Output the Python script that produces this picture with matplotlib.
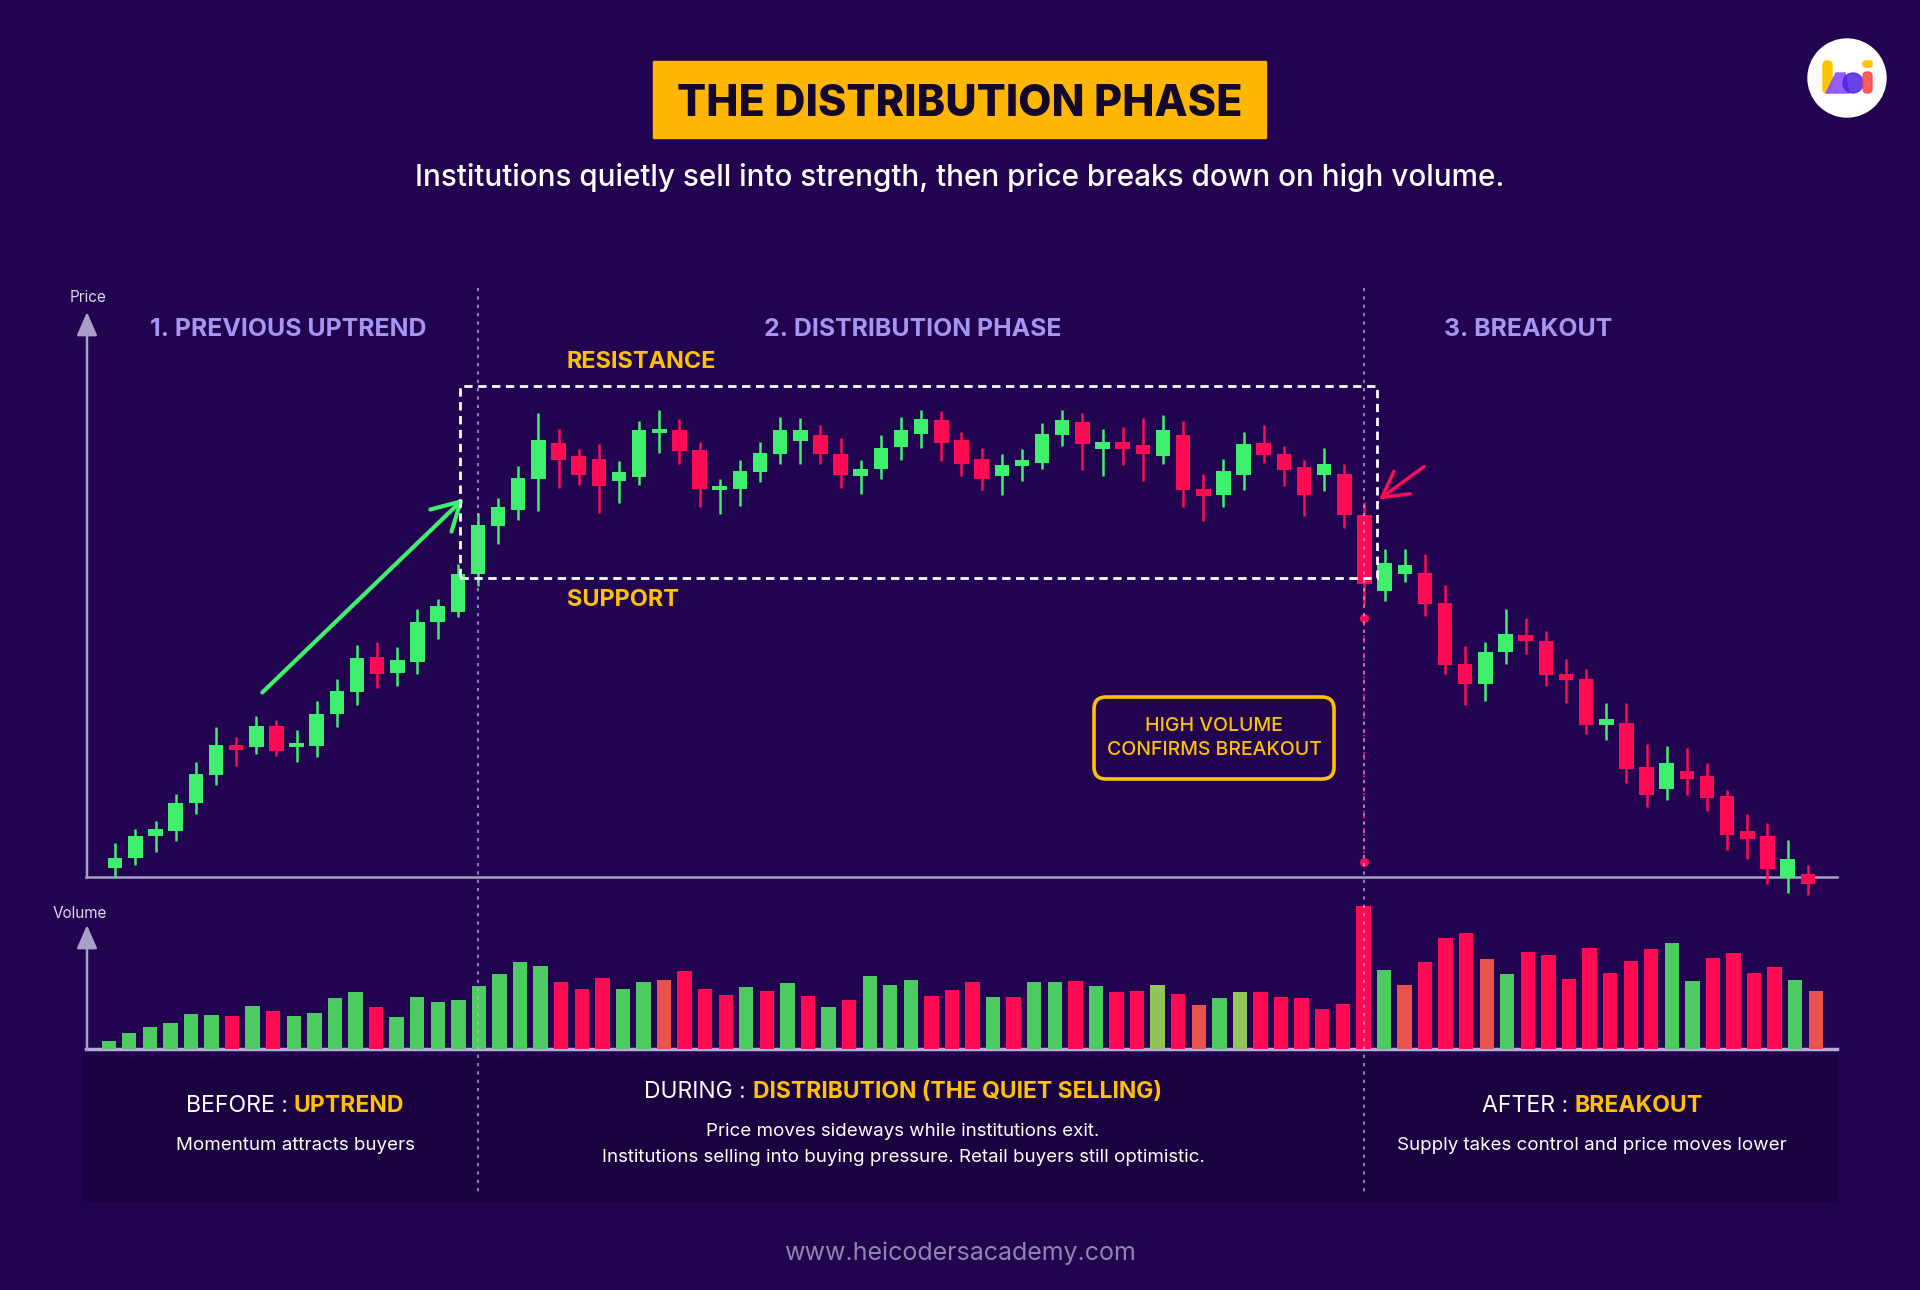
import matplotlib
matplotlib.use("Agg")
import matplotlib.pyplot as plt
from matplotlib.patches import Rectangle, FancyBboxPatch, Circle, Polygon
import numpy as np

plt.rcParams["font.family"] = ["Inter", "DejaVu Sans"]

BG = "#22034f"
PANEL = "#1a0140"
GREEN = "#3ff06d"
RED = "#ff0a54"
YELLOW = "#ffc107"
TITLE_BOX = "#ffb703"
LAVENDER = "#a596f2"
AXIS = "#a8a0c8"
DIVIDER = "#b9b1dc"

# ---------- price candles (OHLC) ----------
opens = [5.8, 7.9, 12.3, 13.3, 18.8, 24.4, 30.5, 30.1, 34.2, 30.1, 30.3, 36.6, 41.0, 48.1, 44.9, 47.1, 55.0, 57.1, 64.6,
         74.3, 77.5, 83.7, 90.9, 88.2, 87.7, 83.3, 84.1, 92.9, 93.5, 89.4, 81.5, 81.6, 85.1, 88.7, 91.3, 92.5, 88.6, 84.2,
         85.7, 90.1, 92.7, 95.4, 91.4, 87.7, 84.2, 86.2, 86.9, 92.4, 94.9, 89.7, 91.0, 90.4, 88.3, 92.4, 81.7, 80.4, 84.5,
         90.9, 88.7, 86.1, 84.4, 84.7, 76.5, 61.2, 64.6, 64.9, 58.9, 46.6, 42.7, 49.1, 52.5, 51.3, 44.7, 43.7, 34.4, 34.9,
         26.1, 21.7, 25.3, 24.2, 20.2, 13.3, 12.3, 3.9, 4.7]
highs = [10.9, 13.6, 15.2, 20.6, 27.1, 34.0, 32.1, 36.3, 35.4, 33.5, 39.3, 43.7, 50.4, 51.0, 50.0, 57.6, 59.7, 66.6, 76.9,
         79.9, 86.3, 96.9, 93.7, 89.7, 90.6, 87.2, 95.3, 97.4, 95.7, 91.0, 83.6, 87.5, 91.0, 96.1, 95.9, 94.4, 91.9, 87.5,
         92.4, 96.1, 97.5, 97.2, 93.1, 89.9, 88.7, 89.7, 94.9, 97.5, 96.9, 93.7, 94.1, 95.9, 96.4, 95.2, 84.6, 87.7, 93.1,
         94.5, 90.3, 87.4, 89.9, 86.7, 79.1, 69.7, 69.6, 68.7, 62.4, 50.3, 51.1, 57.7, 55.9, 53.2, 47.6, 45.6, 38.9, 38.9,
         30.6, 30.3, 29.9, 26.9, 21.5, 16.7, 14.9, 11.5, 6.4]
lows = [4.1, 6.5, 9.0, 11.3, 16.6, 22.5, 26.3, 28.7, 28.3, 27.1, 28.1, 34.0, 38.4, 41.9, 42.3, 44.7, 51.6, 56.0, 62.2,
        70.6, 75.5, 77.3, 81.9, 82.4, 76.9, 78.9, 82.5, 88.9, 86.6, 78.1, 76.7, 78.2, 83.1, 86.6, 86.7, 86.7, 81.9, 80.6,
        83.7, 87.4, 89.9, 87.3, 84.3, 81.4, 80.4, 83.3, 85.7, 90.3, 85.5, 84.2, 86.4, 83.3, 86.7, 78.1, 75.2, 78.1, 81.5,
        86.9, 82.3, 76.2, 81.3, 73.9, 58.4, 59.3, 63.1, 56.2, 44.6, 38.5, 39.2, 46.6, 48.7, 42.2, 38.9, 32.7, 31.5, 22.9,
        18.1, 19.4, 20.4, 17.3, 9.4, 7.6, 2.7, 0.9, 0.4]
closes = [7.9, 12.3, 13.6, 18.9, 24.7, 30.5, 29.4, 34.3, 29.3, 30.7, 36.6, 41.2, 47.9, 44.7, 47.5, 55.0, 58.2, 64.7, 74.5,
          77.9, 83.9, 91.4, 87.4, 84.4, 82.2, 85.0, 93.5, 93.7, 89.2, 81.7, 82.1, 85.3, 88.7, 93.5, 93.4, 88.6, 84.4, 85.7,
          89.9, 93.4, 95.7, 90.9, 86.7, 83.7, 86.4, 87.5, 92.6, 95.4, 90.6, 91.0, 89.7, 88.6, 93.5, 81.4, 80.3, 85.3, 90.6,
          88.5, 85.4, 80.4, 86.6, 76.4, 62.6, 66.9, 66.4, 58.6, 46.4, 42.7, 49.1, 52.6, 51.2, 44.4, 43.4, 34.4, 35.6, 25.6,
          20.5, 26.9, 23.6, 19.9, 12.4, 11.7, 5.7, 7.7, 2.7]

# ---------- volume (thousands) ----------
volume = [80, 160, 217, 260, 347, 343, 333, 433, 383, 327, 360, 507, 567, 417, 323, 520, 467, 487, 633,
          753, 867, 833, 673, 597, 707, 603, 670, 693, 777, 603, 543, 620, 580, 660, 533, 417, 490, 730, 637, 690,
          533, 593, 673, 517, 523, 673, 673, 683, 633, 567, 580, 637, 547, 440, 510, 570, 567, 520, 510, 403, 447, 1433,
          790, 643, 867, 1110, 1157, 900, 750, 973, 940, 697, 1007, 760, 883, 1000, 1057, 683, 913, 960, 763, 823, 693, 577]
# u = buyers, d = sellers, m = mixed (mostly selling), o = mixed (mostly buying)
volume_side = list("uuuuuududuuuuduuuuu"
                   "uuuddduumdddudududuuu"
                   "ddduduududdodmuodddddd"
                   "umdddmuddddddduuddddum")
assert len(volume) == len(volume_side)

resistance = 102.2
support = 63.9
baseline = 4.0
dist_start = 18      # first candle of the distribution range
breakout_idx = 62    # breakdown candle

# ---------- figure ----------
fig = plt.figure(figsize=(19.2, 12.9), dpi=100, facecolor=BG)

back = fig.add_axes([0, 0, 1, 1], zorder=0)
back.set_xlim(0, 1920)
back.set_ylim(1290, 0)
back.axis("off")

ax = fig.add_axes([87 / 1920, 1 - 905 / 1290, 1750 / 1920, 605 / 1290], zorder=2)
ax.set_xlim(-1.4, 85.45)
ax.set_ylim(-1.6, 119.4)
ax.axis("off")

vax = fig.add_axes([87 / 1920, 1 - 1049 / 1290, 1750 / 1920, 149 / 1290], zorder=2)
vax.set_xlim(-1.055, 84.03)
vax.set_ylim(0, 1490)
vax.axis("off")

front = fig.add_axes([0, 0, 1, 1], zorder=5)
front.set_xlim(0, 1920)
front.set_ylim(1290, 0)
front.axis("off")

# ---------- background pieces ----------
back.add_patch(Rectangle((653, 61), 613, 77, color=TITLE_BOX))
back.text(960, 104, "THE DISTRIBUTION PHASE", fontsize=31, fontweight="heavy", color="#14082a",
          ha="center", va="center")
back.text(960, 178, "Institutions quietly sell into strength, then price breaks down on high volume.",
          fontsize=21.4, color="white", ha="center", va="center", fontweight="medium")

# logo
back.add_patch(Circle((1847, 78), 39, color="white"))
back.add_patch(FancyBboxPatch((1823, 61), 9, 32, boxstyle="round,pad=0,rounding_size=4", color="#ffc400"))
back.add_patch(Polygon([(1826, 93), (1836, 73), (1845, 73), (1849, 93)], color="#8a4dff", alpha=0.9))
back.add_patch(Circle((1853, 83), 10, color="#4b22e0", alpha=0.85))
back.add_patch(FancyBboxPatch((1863, 72), 9, 21, boxstyle="round,pad=0,rounding_size=4", color="#ff4a4a", alpha=0.9))
back.add_patch(FancyBboxPatch((1863, 61), 9, 6, boxstyle="round,pad=0,rounding_size=2", color="#ffc400"))

# bottom panel
back.add_patch(Rectangle((83, 1056), 1754, 144, color=PANEL))

# axes frames
back.annotate("", xy=(87, 312), xytext=(87, 878),
              arrowprops=dict(arrowstyle="-|>,head_length=0.8,head_width=0.35", color=AXIS, lw=1.8,
                              shrinkA=0, shrinkB=0, mutation_scale=18))
back.plot([86, 1837], [877, 877], color=AXIS, lw=1.8)
back.annotate("", xy=(87, 925), xytext=(87, 1050),
              arrowprops=dict(arrowstyle="-|>,head_length=0.8,head_width=0.35", color=AXIS, lw=1.8,
                              shrinkA=0, shrinkB=0, mutation_scale=18))
back.plot([86, 1837], [1049, 1049], color="#b5acd8", lw=2.5)
back.text(88, 297, "Price", fontsize=11, color="#ddd8ee", ha="center", va="center")
back.text(80, 913, "Volume", fontsize=11, color="#ddd8ee", ha="center", va="center")

# ---------- candles ----------
o = np.array(opens)
h = np.array(highs)
l = np.array(lows)
c = np.array(closes)
idx = np.arange(len(o))
cols = np.where(c >= o, GREEN, RED)
ax.vlines(idx, l, h, colors=cols, lw=1.8)
ax.bar(idx, np.maximum(np.abs(c - o), 0.7), bottom=np.minimum(o, c), width=0.72, color=cols, linewidth=0)

# resistance / support range
ax.add_patch(Rectangle((dist_start - 0.9, support), breakout_idx + 0.6 - (dist_start - 0.9), resistance - support,
                       fill=False, ec="white", lw=2, ls=(0, (3, 2)), zorder=4))

# arrows
ax.annotate("", xy=(17.3, 79.7), xytext=(7.3, 40.9),
            arrowprops=dict(arrowstyle="->,head_length=0.9,head_width=0.5", color=GREEN, lw=3,
                            shrinkA=0, shrinkB=0, mutation_scale=22))
ax.annotate("", xy=(62.72, 79.5), xytext=(64.96, 86.1),
            arrowprops=dict(arrowstyle="->,head_length=0.9,head_width=0.5", color=RED, lw=2.5,
                            shrinkA=0, shrinkB=0, mutation_scale=20))

# breakout marker
ax.plot([breakout_idx, breakout_idx], [lows[breakout_idx] - 2.6, baseline + 3], color=RED, lw=1.4, ls=(0, (1, 2)))
ax.scatter([breakout_idx, breakout_idx], [lows[breakout_idx] - 2.6, baseline + 3], s=30, color=RED, zorder=5)

# ---------- volume ----------
vcol = {"u": "#4ccc60", "d": RED, "m": "#e8534c", "o": "#93c458"}
vax.bar(np.arange(len(volume)), volume, width=0.7, color=[vcol[s] for s in volume_side], linewidth=0)

# ---------- foreground text ----------
front.text(288, 329, "1. PREVIOUS UPTREND", fontsize=17.9, fontweight="bold", color=LAVENDER, ha="center", va="center")
front.text(913, 329, "2. DISTRIBUTION PHASE", fontsize=17.9, fontweight="bold", color=LAVENDER, ha="center", va="center")
front.text(1528, 329, "3. BREAKOUT", fontsize=17.9, fontweight="bold", color=LAVENDER, ha="center", va="center")

front.text(567, 362, "RESISTANCE", fontsize=16.9, fontweight="bold", color=YELLOW, ha="left", va="center")
front.text(567, 600, "SUPPORT", fontsize=16.9, fontweight="bold", color=YELLOW, ha="left", va="center")

front.add_patch(FancyBboxPatch((1094, 697), 240, 82, boxstyle="round,pad=0,rounding_size=12",
                               fill=False, ec=YELLOW, lw=2.6))
front.text(1214, 726, "HIGH VOLUME", fontsize=14, color=YELLOW, ha="center", va="center", fontweight="medium")
front.text(1214, 750, "CONFIRMS BREAKOUT", fontsize=14, color=YELLOW, ha="center", va="center", fontweight="medium")

# dividers
for i in (dist_start, breakout_idx):
    xd = ax.transData.transform((i, 0))[0]
    front.plot([xd, xd], [288, 1194], color=DIVIDER, lw=1.2, ls=(0, (2, 3)), alpha=0.85)

renderer = fig.canvas.get_renderer()


def two_tone(x, y, left, right, size):
    t1 = front.text(0, y, left, fontsize=size, color="white", ha="left", va="center")
    t2 = front.text(0, y, right, fontsize=size, color=YELLOW, fontweight="bold", ha="left", va="center")
    w1 = t1.get_window_extent(renderer).width
    w2 = t2.get_window_extent(renderer).width
    start = x - (w1 + w2) / 2
    t1.set_x(start)
    t2.set_x(start + w1)


two_tone(295, 1106, "BEFORE : ", "UPTREND", 16.6)
two_tone(903, 1092, "DURING : ", "DISTRIBUTION (THE QUIET SELLING)", 16.5)
two_tone(1592, 1106, "AFTER : ", "BREAKOUT", 16.6)

front.text(295, 1146, "Momentum attracts buyers", fontsize=13.5, color="white", ha="center", va="center")
front.text(903, 1131, "Price moves sideways while institutions exit.", fontsize=13.5, color="white",
           ha="center", va="center")
front.text(903, 1157, "Institutions selling into buying pressure. Retail buyers still optimistic.", fontsize=13.5,
           color="white", ha="center", va="center")
front.text(1592, 1146, "Supply takes control and price moves lower", fontsize=13.5, color="white",
           ha="center", va="center")

front.text(960, 1253, "www.heicodersacademy.com", fontsize=18, color="#8f86b0", ha="center", va="center")

fig.savefig("out.png", dpi=100, facecolor=BG)
